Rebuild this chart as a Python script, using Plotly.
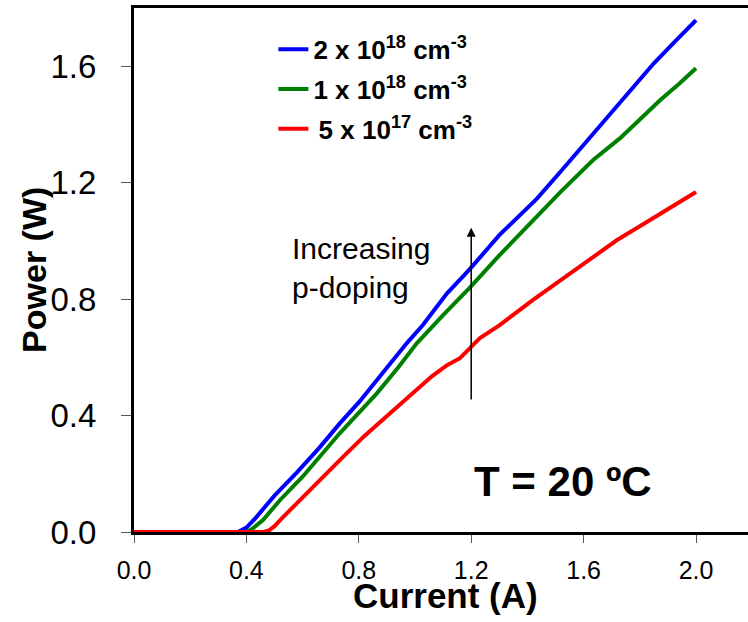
import plotly.graph_objects as go

# Light-current curves for three p-doping levels
current_2e18 = [0.0, 0.37, 0.40, 0.43, 0.50, 0.58, 0.66, 0.733, 0.80, 0.865, 0.92, 0.971,
                1.028, 1.07, 1.114, 1.171, 1.206, 1.30, 1.434, 1.52, 1.623, 1.74, 1.85, 1.93, 2.0]
power_2e18 = [0.0, 0.0, 0.015, 0.045, 0.125, 0.205, 0.29, 0.374, 0.445, 0.522, 0.585, 0.649,
              0.711, 0.765, 0.82, 0.878, 0.915, 1.02, 1.145, 1.24, 1.356, 1.489, 1.61, 1.69, 1.758]

current_1e18 = [0.0, 0.40, 0.42, 0.459, 0.52, 0.60, 0.733, 0.865, 0.94, 1.007, 1.10, 1.196,
                1.30, 1.42, 1.52, 1.633, 1.73, 1.80, 1.872, 1.94, 2.0]
power_1e18 = [0.0, 0.0, 0.01, 0.041, 0.11, 0.19, 0.34, 0.477, 0.565, 0.649, 0.745, 0.84,
              0.95, 1.07, 1.17, 1.277, 1.353, 1.417, 1.483, 1.54, 1.593]

current_5e17 = [0.0, 0.46, 0.48, 0.50, 0.52, 0.60, 0.68, 0.744, 0.82, 0.911, 1.007, 1.06,
                1.114, 1.16, 1.231, 1.30, 1.42, 1.54, 1.658, 1.719, 1.80, 1.90, 2.0]
power_5e17 = [0.0, 0.0, 0.005, 0.02, 0.041, 0.12, 0.195, 0.258, 0.33, 0.409, 0.488, 0.535,
              0.573, 0.597, 0.666, 0.71, 0.797, 0.88, 0.958, 1.003, 1.05, 1.11, 1.168]

series_names = ["<b>2 x 10<sup>18</sup> cm<sup>-3</sup></b>",
                "<b>1 x 10<sup>18</sup> cm<sup>-3</sup></b>",
                "<b>\u20095 x 10<sup>17</sup> cm<sup>-3</sup></b>"]
series_colors = ["#0000FF", "#008000", "#FF0000"]

tick_vals = [0.0, 0.4, 0.8, 1.2, 1.6, 2.0]
tick_text = ["0.0", "0.4", "0.8", "1.2", "1.6", "2.0"]

FONT = "Arial, Liberation Sans, sans-serif"

fig = go.Figure()
for i, (xs, ys, name, color) in enumerate(zip([current_2e18, current_1e18, current_5e17],
                                              [power_2e18, power_1e18, power_5e17],
                                              series_names, series_colors)):
    fig.add_trace(go.Scatter(x=xs, y=ys, mode="lines", name=name, legendgroup=f"g{i}",
                             line=dict(color=color, width=4)))

# Arrow showing the doping trend
fig.add_annotation(x=1.2, y=1.045, ax=1.2, ay=0.45, xref="x", yref="y",
                   axref="x", ayref="y", text="", showarrow=True,
                   arrowhead=2, arrowsize=1.2, arrowwidth=1.5, arrowcolor="black")
fig.add_annotation(x=0.555, y=0.906, xref="x", yref="y", xanchor="left", yanchor="middle",
                   text="Increasing<br>p-doping", showarrow=False, align="left",
                   font=dict(family=FONT, size=30, color="black"))
fig.add_annotation(x=1.527, y=0.172, xref="x", yref="y", xanchor="center", yanchor="middle",
                   text="<b>T = 20 \u00baC</b>", showarrow=False,
                   font=dict(family=FONT, size=42, color="black"))

# Axis titles placed just outside the plotting area
fig.add_annotation(x=0.508, y=-0.122, xref="paper", yref="paper", xanchor="center",
                   yanchor="middle", text="<b>Current (A)</b>", showarrow=False,
                   font=dict(family=FONT, size=35, color="black"))
fig.add_annotation(x=-0.163, y=0.5, xref="paper", yref="paper", xanchor="center",
                   yanchor="middle", text="<b>Power (W)</b>", showarrow=False,
                   textangle=-90, font=dict(family=FONT, size=34, color="black"))

fig.update_layout(
    width=748, height=622,
    margin=dict(l=134, r=0, t=8, b=90),
    paper_bgcolor="white", plot_bgcolor="white",
    font=dict(family=FONT, color="black"),
    legend=dict(x=0.227, y=0.966, xanchor="left", yanchor="top",
                font=dict(family=FONT, size=26, color="black"),
                bgcolor="rgba(0,0,0,0)", itemwidth=30, tracegroupgap=3),
    xaxis=dict(range=[0, 2.185], tickvals=tick_vals, ticktext=tick_text,
               showgrid=False, zeroline=False, showline=True, linecolor="black",
               linewidth=3, mirror=True, ticks="outside", ticklen=8, tickwidth=1,
               tickcolor="#555", ticklabelstandoff=6,
               tickfont=dict(size=25, family=FONT, color="black")),
    yaxis=dict(range=[0, 1.8], tickvals=tick_vals[:5], ticktext=tick_text[:5],
               showgrid=False, zeroline=False, showline=True, linecolor="black",
               linewidth=3, ticks="outside", ticklen=10, tickwidth=1,
               tickcolor="#555", ticklabelstandoff=18,
               tickfont=dict(size=33, family=FONT, color="black")),
)

fig.write_html("out.html")
